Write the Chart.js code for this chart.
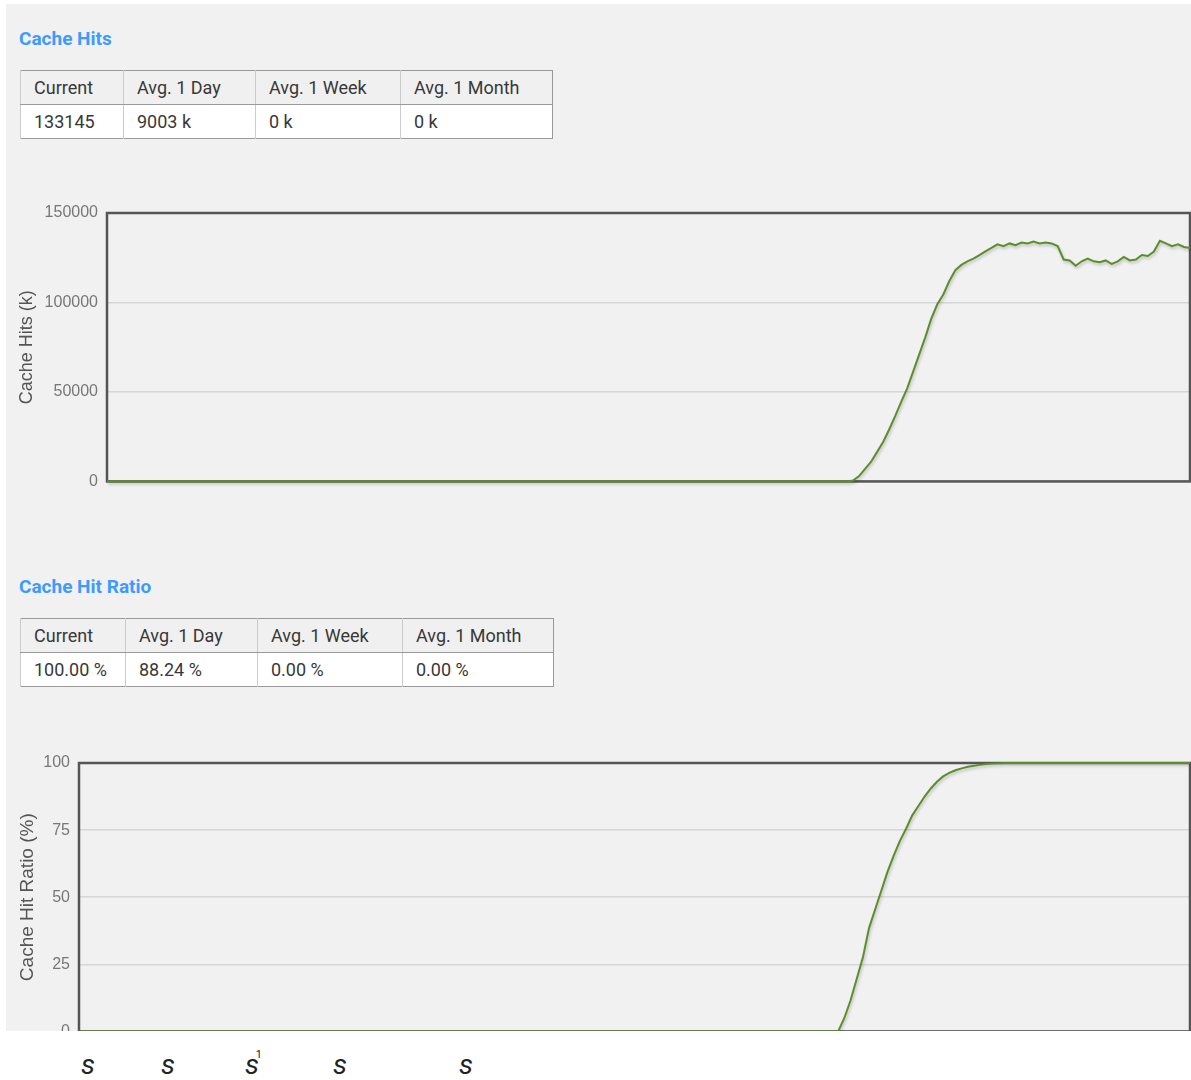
<!DOCTYPE html>
<html>
<head>
<meta charset="utf-8">
<script src="https://cdn.jsdelivr.net/npm/chart.js@4/dist/chart.umd.min.js"></script>
<style>
  body { margin: 0; background: #fff; width: 1191px; height: 1080px; overflow: hidden; font-family: Roboto, 'Liberation Sans', sans-serif; }
  .panel { position: absolute; left: 6px; top: 4px; width: 1185px; height: 1027px; background: #f1f1f1; overflow: hidden; }
  h3 { position: absolute; margin: 0; left: 13px; font-size: 19px; font-weight: bold; color: #3d9bff; }
  table { position: absolute; left: 14px; border-collapse: collapse; border: 1.5px solid #999; font-size: 18px; color: #383838; }
  td { height: 34px; padding: 0 0 0 13px; border-left: 1px solid #ccc; box-sizing: border-box; }
  tr.head td { background: #f0f0f0; border-bottom: 1.5px solid #999; }
  tr.vals td { background: #fff; }
  .chart { position: absolute; left: 0; width: 1185px; height: 310px; }
  .xl { position: absolute; top: 1051px; font: italic 28px Roboto, sans-serif; color: #222; line-height: 28px; transform: translateX(-50%); }
  .xl sup { position: absolute; top: -2px; right: -3px; font-size: 11px; font-style: normal; line-height: 11px; }
</style>
</head>
<body>
<div class="panel">
  <h3 style="top:23px">Cache Hits</h3>
  <table style="top:66px; width:533px">
    <tr class="head"><td style="width:103px">Current</td><td style="width:132px">Avg. 1 Day</td><td style="width:145px">Avg. 1 Week</td><td>Avg. 1 Month</td></tr>
    <tr class="vals"><td>133145</td><td>9003 k</td><td>0 k</td><td>0 k</td></tr>
  </table>
  <div class="chart" style="top:186px"><canvas id="hits"></canvas></div>

  <h3 style="top:571px">Cache Hit Ratio</h3>
  <table style="top:614px; width:534px">
    <tr class="head"><td style="width:105px">Current</td><td style="width:132px">Avg. 1 Day</td><td style="width:145px">Avg. 1 Week</td><td>Avg. 1 Month</td></tr>
    <tr class="vals"><td>100.00 %</td><td>88.24 %</td><td>0.00 %</td><td>0.00 %</td></tr>
  </table>
  <div class="chart" style="top:736px"><canvas id="ratio"></canvas></div>
</div>

<div class="xl" style="left:88px">s</div>
<div class="xl" style="left:168px">s</div>
<div class="xl" style="left:252px">s<sup>1</sup></div>
<div class="xl" style="left:340px">s</div>
<div class="xl" style="left:466px">s</div>

<script>
// samples, same time base for both charts
const hitValues = [
  0, 0, 0, 0, 0, 0, 0, 0, 0, 0, 0, 0, 0, 0, 0, 0, 0, 0, 0, 0,
  0, 0, 0, 0, 0, 0, 0, 0, 0, 0, 0, 0, 0, 0, 0, 0, 0, 0, 0, 0,
  0, 0, 0, 0, 0, 0, 0, 0, 0, 0, 0, 0, 0, 0, 0, 0, 0, 0, 0, 0,
  0, 0, 0, 0, 0, 0, 0, 0, 0, 0, 0, 0, 0, 0, 0, 0, 0, 0, 0, 0,
  0, 0, 0, 0, 0, 0, 0, 0, 0, 0, 0, 0, 0, 0, 0, 0, 0, 0, 0, 0,
  0, 0, 0, 0, 0, 0, 0, 0, 0, 0, 0, 0, 0, 0, 0, 0, 0, 0, 0, 0,
  0, 0, 0, 0,
  500, 3000, 7000, 11000, 16500, 22000, 29000, 36500, 44500, 52000,
  61500, 71000, 80500, 91000, 99000, 104500, 112000, 118000, 121000, 123000,
  124500, 126500, 128500, 130500, 132500, 131500, 133000, 132000, 133500, 133000,
  134000, 133000, 133500, 133000, 131500, 124000, 123500, 120500, 123000, 124500,
  123000, 122500, 123500, 121500, 123000, 125500, 123500, 124000, 126500, 126000,
  128500, 134500, 133000, 131500, 132500, 131000, 130500
];

const ratioValues = [
  0, 0, 0, 0, 0, 0, 0, 0, 0, 0, 0, 0, 0, 0, 0, 0, 0, 0, 0, 0,
  0, 0, 0, 0, 0, 0, 0, 0, 0, 0, 0, 0, 0, 0, 0, 0, 0, 0, 0, 0,
  0, 0, 0, 0, 0, 0, 0, 0, 0, 0, 0, 0, 0, 0, 0, 0, 0, 0, 0, 0,
  0, 0, 0, 0, 0, 0, 0, 0, 0, 0, 0, 0, 0, 0, 0, 0, 0, 0, 0, 0,
  0, 0, 0, 0, 0, 0, 0, 0, 0, 0, 0, 0, 0, 0, 0, 0, 0, 0, 0, 0,
  0, 0, 0, 0, 0, 0, 0, 0, 0, 0, 0, 0, 0, 0, 0, 0, 0, 0, 0, 0,
  0, 0, 0, 0,
  5, 11.5, 19.5, 27.5, 38.5, 45.5, 52.5, 59.5, 65.5, 71,
  75.5, 80.5, 84, 87.5, 90.5, 93, 95, 96.3, 97.3, 98,
  98.6, 99, 99.3, 99.6, 99.8, 99.9,
  100, 100, 100, 100, 100, 100, 100, 100, 100, 100,
  100, 100, 100, 100, 100, 100, 100, 100, 100, 100,
  100, 100, 100, 100, 100, 100, 100, 100, 100, 100, 100
];

const hitTicks = [0, 50000, 100000, 150000];
const ratioTicks = [0, 25, 50, 75, 100];
const samples = hitValues.map((_, i) => i);

Chart.defaults.font.family = "'Liberation Sans', Arial, sans-serif";
Chart.defaults.font.size = 16;
Chart.defaults.color = '#777';

// dark frame around the plot area
const frame = {
  id: 'frame',
  beforeDatasetsDraw(chart) {
    const { ctx, chartArea: a } = chart;
    ctx.save();
    ctx.strokeStyle = '#555';
    ctx.lineWidth = 2.5;
    ctx.strokeRect(a.left, a.top, a.right - a.left, a.bottom - a.top);
    ctx.restore();
  }
};

// soft shadow under the line
const shadow = {
  id: 'shadow',
  beforeDatasetDraw(chart) {
    const ctx = chart.ctx;
    ctx.save();
    ctx.shadowColor = 'rgba(0,0,0,0.22)';
    ctx.shadowBlur = 3;
    ctx.shadowOffsetX = 1;
    ctx.shadowOffsetY = 2;
  },
  afterDatasetDraw(chart) {
    chart.ctx.restore();
  }
};

function makeChart(id, values, ticks, title, axisWidth, titleSize) {
  return new Chart(document.getElementById(id), {
    type: 'line',
    data: {
      labels: samples,
      datasets: [{
        data: values,
        borderColor: '#5b8e2b',
        borderWidth: 2,
        pointRadius: 0,
        tension: 0,
        clip: false
      }]
    },
    options: {
      responsive: true,
      maintainAspectRatio: false,
      animation: false,
      layout: { padding: { top: 23, right: 1, bottom: 18, left: 0 } },
      plugins: { legend: { display: false }, tooltip: { enabled: false } },
      scales: {
        x: { display: false },
        y: {
          min: ticks[0],
          max: ticks[ticks.length - 1],
          afterBuildTicks(scale) { scale.ticks = ticks.map(v => ({ value: v })); },
          afterFit(scale) { scale.width = axisWidth; },
          ticks: { padding: 9, color: '#777', callback: v => String(v) },
          grid: { color: '#d6d6d6', lineWidth: 1.5, drawTicks: false },
          border: { display: false },
          title: {
            display: true,
            text: title,
            color: '#555',
            font: { size: titleSize },
            padding: { top: 10, bottom: 0 }
          }
        }
      }
    },
    plugins: [frame, shadow]
  });
}

makeChart('hits', hitValues, hitTicks, 'Cache Hits (k)', 101, 18);
makeChart('ratio', ratioValues, ratioTicks, 'Cache Hit Ratio (%)', 73, 19);
</script>
</body>
</html>
